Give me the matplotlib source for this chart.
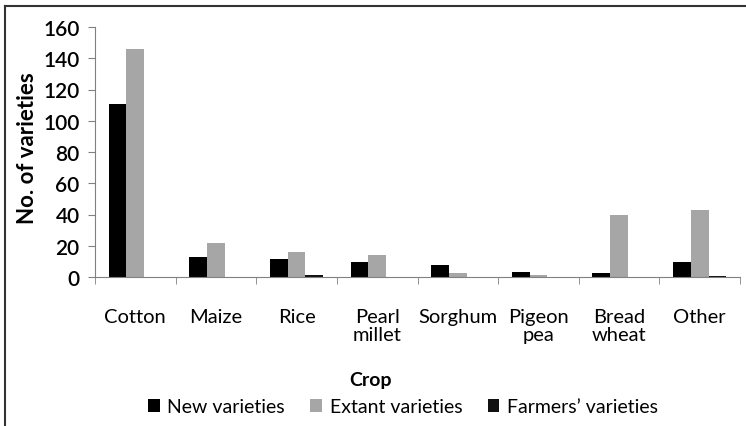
import matplotlib.pyplot as plt
import numpy as np
from matplotlib.lines import Line2D

crops = ["Cotton", "Maize", "Rice", "Pearl\nmillet", "Sorghum", "Pigeon\npea", "Bread\nwheat", "Other"]
new_varieties = [111, 13, 11.5, 9.5, 7.5, 3.5, 2.5, 9.5]
extant_varieties = [146, 22, 16, 14, 2.5, 1, 40, 43]
farmers_varieties = [0, 0, 1.5, 0, 0, 0, 0, 0.5]

plt.rcParams['font.family'] = ['Lato', 'DejaVu Sans']

fig = plt.figure(figsize=(7.46, 4.27), dpi=100)
ax = fig.add_axes([95/746, 1 - 278/427, (740 - 95)/746, 250/427])

x = np.arange(len(crops))
w = 0.22
ax.bar(x - w, new_varieties, w, color="#000000", label="New varieties")
ax.bar(x, extant_varieties, w, color="#a6a6a6", label="Extant varieties")
ax.bar(x + w, farmers_varieties, w, color="#111111", label="Farmers\u2019 varieties")

ax.set_xlim(-0.5, len(crops) - 0.5)
ax.set_ylim(0, 160)
ax.set_yticks(range(0, 161, 20))
ax.set_xticks(x)
ax.set_xticklabels(crops, fontsize=14.5, va="top", linespacing=1.1)
ax.set_xticks(np.arange(-0.5, len(crops)), minor=True)
ax.tick_params(axis="x", which="major", length=0, pad=22)
ax.tick_params(axis="x", which="minor", length=5, color="#808080", direction="out")
ax.tick_params(axis="y", length=5, color="#808080", labelsize=15, pad=6)
for lab in ax.get_yticklabels():
    lab.set_fontweight("semibold")

for s in ["top", "right"]:
    ax.spines[s].set_visible(False)
ax.spines["left"].set_color("#808080")
ax.spines["bottom"].set_color("#808080")

fig.text(27/746, 1 - 148/427, "No. of varieties", rotation=90, ha="center", va="center",
         fontsize=16, fontweight="bold")
fig.text(370/746, 1 - 381/427, "Crop", ha="center", va="center", fontsize=14, fontweight="bold")

handles, labels = ax.get_legend_handles_labels()
fig.legend(handles, labels, loc="center", bbox_to_anchor=(403/746, 1 - 408/427), ncol=3,
           frameon=False, fontsize=14, handlelength=0.6, handleheight=0.6,
           handletextpad=0.4, columnspacing=1.3)

# outer frame (top and left edge only)
fig.add_artist(Line2D([5/746, 745/746], [1 - 7/427, 1 - 7/427], transform=fig.transFigure,
                      color="#333333", lw=1.5))
fig.add_artist(Line2D([5/746, 5/746], [1 - 7/427, 0], transform=fig.transFigure,
                      color="#333333", lw=1.5))

fig.savefig("out.png", dpi=100)
